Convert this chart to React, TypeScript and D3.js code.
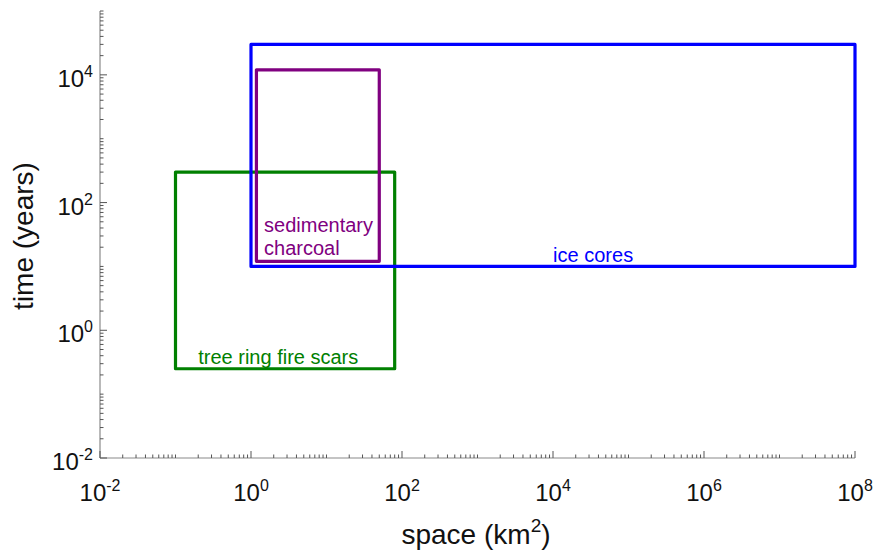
import React from "react";
import * as d3 from "d3";

// Record types: spatial extent (km²) and temporal extent (years)
const names = ["tree ring fire scars", "ice cores", "sedimentary charcoal"];
const spaceMin = [0.1, 1, 1.18];
const spaceMax = [80, 1e8, 50];
const timeMin = [0.25, 10, 12];
const timeMax = [300, 3e4, 1.2e4];
const colors = ["#008000", "#0000ff", "#800080"];

// Label anchors (data units) and line breaks for each record type
const labelLines = [["tree ring fire scars"], ["ice cores"], ["sedimentary", "charcoal"]];
const labelSpace = [0.2, 3.4e4, 1.49];
const labelTime = [0.3, 11.7, 34.6];
const labelAnchor = ["start", "middle", "start"];

const xTickExps = [-2, 0, 2, 4, 6, 8];
const yTickExps = [-2, 0, 2, 4];

const W = 876;
const H = 554;
const FONT = "'Liberation Sans', Arial, sans-serif";

export default function App() {
  const x = d3.scaleLog().domain([1e-2, 1e8]).range([100, 855]);
  const y = d3.scaleLog().domain([1e-2, 1e5]).range([458, 11]);

  // minor ticks at every 1..9 × 10^k
  const minorX: number[] = [];
  for (let e = -2; e < 8; e++) for (let m = 1; m < 10; m++) minorX.push(m * Math.pow(10, e));
  minorX.push(1e8);
  const minorY: number[] = [];
  for (let e = -2; e < 5; e++) for (let m = 1; m < 10; m++) minorY.push(m * Math.pow(10, e));
  minorY.push(1e5);

  const axisColor = "#8a8a8a";
  const tickColor = "#555";

  return (
    <svg width={W} height={H} style={{ position: "absolute", left: 0, top: 0, background: "#fff" }} fontFamily={FONT}>
      <rect width={W} height={H} fill="#fff" />
      {/* axes */}
      <line x1={x(1e-2)} x2={x(1e8)} y1={y(1e-2)} y2={y(1e-2)} stroke={axisColor} strokeWidth={1.2} />
      <line x1={x(1e-2)} x2={x(1e-2)} y1={y(1e-2)} y2={y(1e5)} stroke={axisColor} strokeWidth={1.2} />
      {minorX.map((v, i) => {
        const major = xTickExps.some((e) => Math.abs(Math.log10(v) - e) < 1e-9);
        return (
          <line key={"mx" + i} x1={x(v)} x2={x(v)} y1={y(1e-2)} y2={y(1e-2) - (major ? 7 : 3.5)} stroke={tickColor} strokeWidth={1} />
        );
      })}
      {minorY.map((v, i) => {
        const major = yTickExps.some((e) => Math.abs(Math.log10(v) - e) < 1e-9);
        return (
          <line key={"my" + i} x1={x(1e-2)} x2={x(1e-2) + (major ? 7 : 3.5)} y1={y(v)} y2={y(v)} stroke={tickColor} strokeWidth={1} />
        );
      })}
      {xTickExps.map((e) => (
        <text key={"xl" + e} x={x(Math.pow(10, e))} y={501} textAnchor="middle" fontSize={24} fill="#111">
          10<tspan fontSize={16} dy={-10}>{e}</tspan>
        </text>
      ))}
      {yTickExps.map((e) => (
        <text key={"yl" + e} x={93} y={y(Math.pow(10, e)) + 12} textAnchor="end" fontSize={24} fill="#111">
          10<tspan fontSize={16} dy={-10}>{e}</tspan>
        </text>
      ))}
      {/* axis titles */}
      <text x={476} y={544} textAnchor="middle" fontSize={28} fill="#111">
        space (km<tspan fontSize={19} dy={-12}>2</tspan>
        <tspan dy={12}>)</tspan>
      </text>
      <text transform="translate(33,236) rotate(-90)" textAnchor="middle" fontSize={28} fill="#111">
        time (years)
      </text>
      {/* record extents */}
      {names.map((n, i) => (
        <rect
          key={n}
          x={x(spaceMin[i])}
          y={y(timeMax[i])}
          width={x(spaceMax[i]) - x(spaceMin[i])}
          height={y(timeMin[i]) - y(timeMax[i])}
          fill="none"
          stroke={colors[i]}
          strokeWidth={3.2}
          strokeLinejoin="round"
        />
      ))}
      {names.map((n, i) => (
        <text
          key={"t" + n}
          x={x(labelSpace[i])}
          y={y(labelTime[i])}
          textAnchor={labelAnchor[i] as any}
          fontSize={20}
          fill={colors[i]}
        >
          {labelLines[i].map((l, j) => (
            <tspan key={j} x={x(labelSpace[i])} dy={j === 0 ? 0 : 23}>
              {l}
            </tspan>
          ))}
        </text>
      ))}
    </svg>
  );
}
